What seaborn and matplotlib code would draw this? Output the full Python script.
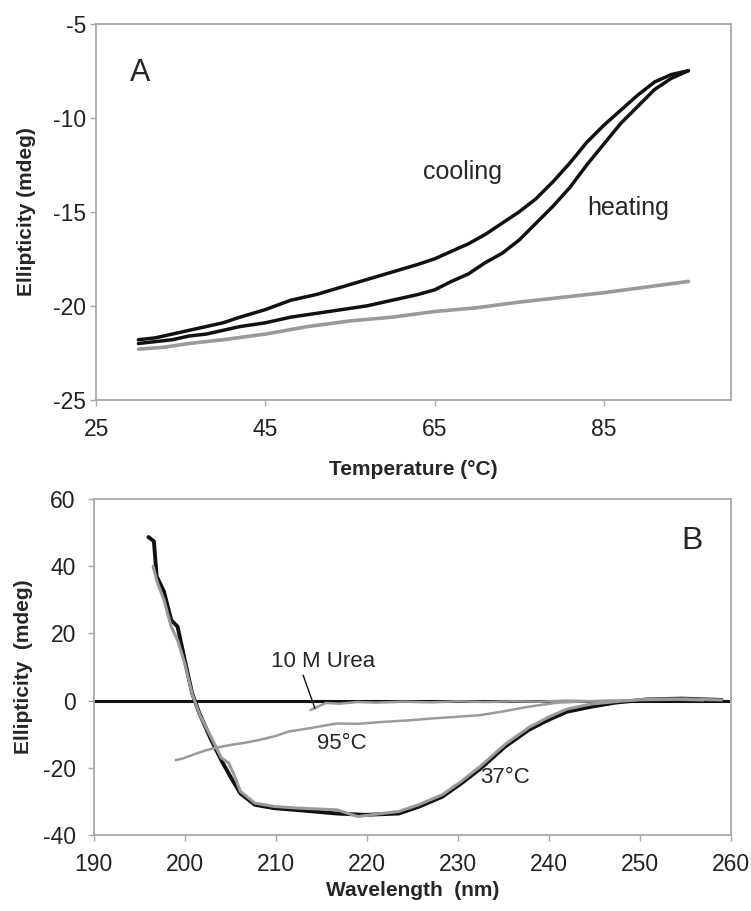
import matplotlib
matplotlib.use("Agg")
import matplotlib.pyplot as plt
import seaborn as sns

# Panel A: thermal melt (ellipticity vs temperature)
cool_T = [30, 32, 34, 36, 38, 40, 42, 45, 48, 51, 54, 57, 60, 63, 65, 67, 69, 71, 73, 75,
          77, 79, 81, 83, 85, 87, 89, 91, 93, 95]
cool_E = [-21.8, -21.7, -21.5, -21.3, -21.1, -20.9, -20.6, -20.2, -19.7, -19.4, -19.0, -18.6,
          -18.2, -17.8, -17.5, -17.1, -16.7, -16.2, -15.6, -15.0, -14.3, -13.4, -12.4, -11.3,
          -10.4, -9.6, -8.8, -8.1, -7.7, -7.5]
heat_T = [30, 32, 34, 36, 38, 40, 42, 45, 48, 51, 54, 57, 60, 63, 65, 67, 69, 71, 73, 75,
          77, 79, 81, 83, 85, 87, 89, 91, 93, 95]
heat_E = [-22.0, -21.9, -21.8, -21.6, -21.5, -21.3, -21.1, -20.9, -20.6, -20.4, -20.2, -20.0,
          -19.7, -19.4, -19.15, -18.7, -18.3, -17.7, -17.2, -16.5, -15.6, -14.7, -13.7, -12.5,
          -11.4, -10.3, -9.4, -8.5, -7.9, -7.5]
gray_T = [30, 33, 36, 40, 45, 50, 55, 60, 65, 70, 75, 80, 85, 90, 95]
gray_E = [-22.3, -22.2, -22.0, -21.8, -21.5, -21.1, -20.8, -20.6, -20.3, -20.1, -19.8, -19.55,
          -19.3, -19.0, -18.7]

# Panel B: CD spectra
wl37_black = [196.0, 196.6, 196.9, 197.7, 198.5, 199.2, 200.0, 200.8, 201.6, 202.9, 204.0, 205.0,
              206.1, 207.7, 209.8, 212.5, 216.7, 219.8, 223.5, 225.7, 228.3, 230.4, 232.5, 235.2,
              237.8, 239.9, 242.0, 244.7, 247.3, 251.0, 254.7, 259.0]
ell37_black = [48.7, 47.4, 37.0, 32.5, 24.0, 22.0, 12.0, 2.2, -3.8, -11.7, -17.7, -22.6, -27.6,
               -31.0, -32.0, -32.6, -33.6, -34.0, -33.6, -31.6, -28.6, -24.6, -20.2, -13.7,
               -8.7, -5.8, -3.3, -1.8, -0.6, 0.4, 0.6, 0.2]
wl37_gray = [196.5, 197.0, 197.7, 198.5, 199.2, 200.0, 200.8, 201.6, 202.9, 204.0, 204.8, 205.4,
             206.1, 207.7, 209.8, 212.5, 216.7, 219.0, 221.0, 223.5, 225.7, 228.3, 230.4, 232.5,
             235.2, 237.8, 239.9, 242.0, 244.7, 247.3, 251.0, 255.0, 259.0]
ell37_gray = [40.0, 35.0, 30.0, 22.0, 18.0, 11.0, 2.0, -4.0, -11.0, -17.0, -18.5, -22.0, -27.0,
              -30.5, -31.5, -32.0, -32.5, -34.5, -33.8, -33.0, -31.0, -28.0, -24.0, -19.5,
              -13.0, -8.0, -5.0, -2.5, -1.0, -0.3, 0.5, 0.5, 0.2]
wl95 = [199.0, 199.8, 201.0, 202.4, 203.5, 205.0, 206.5, 208.2, 210.0, 211.4, 213.5, 216.7,
        219.0, 222.0, 225.0, 227.2, 230.0, 232.5, 235.0, 237.8, 241.0, 244.0, 247.0]
ell95 = [-17.7, -17.2, -16.0, -14.7, -14.0, -13.2, -12.6, -11.7, -10.5, -9.2, -8.3, -6.8, -6.9,
         -6.3, -5.8, -5.3, -4.8, -4.3, -3.2, -1.8, -0.6, -0.2, 0.0]
wl_urea = [213.8, 214.6, 215.5, 217.0, 219.0, 221.0, 224.0, 227.0, 230.0, 233.0, 236.0, 239.0,
           242.0, 245.0, 248.0, 251.0, 254.0, 257.0]
ell_urea = [-2.8, -1.8, -0.7, -0.9, -0.4, -0.6, -0.3, -0.5, -0.2, -0.4, -0.2, -0.3, 0.0, -0.2,
            0.1, 0.2, 0.3, 0.1]

sns.set_style("white")
plt.rcParams["font.family"] = ["Liberation Sans", "DejaVu Sans"]
plt.rcParams["axes.unicode_minus"] = False

BLACK = "#111111"
GRAY = "#9a9a9a"
FRAME = "#a8a8a8"

fig = plt.figure(figsize=(7.51, 9.11), dpi=100)
axA = fig.add_axes([0.128, 0.561, 0.845, 0.413])
axB = fig.add_axes([0.125, 0.0834, 0.848, 0.3688])


def style_axes(ax, ypad):
    for sp in ax.spines.values():
        sp.set_color(FRAME)
        sp.set_linewidth(1.3)
    ax.tick_params(axis="x", direction="out", length=4, width=1, color=FRAME,
                   labelsize=16.5, pad=9, bottom=True, labelcolor="#222222")
    ax.tick_params(axis="y", direction="out", length=4, width=1, color=FRAME,
                   labelsize=16.5, pad=ypad, left=True, labelcolor="#222222")


# Panel A
sns.lineplot(x=gray_T, y=gray_E, ax=axA, color=GRAY, lw=2.6, sort=False, estimator=None)
sns.lineplot(x=heat_T, y=heat_E, ax=axA, color=BLACK, lw=2.5, sort=False, estimator=None)
sns.lineplot(x=cool_T, y=cool_E, ax=axA, color=BLACK, lw=2.5, sort=False, estimator=None)
axA.set_xlim(25, 100)
axA.set_ylim(-25, -5)
axA.set_xticks([25, 45, 65, 85])
axA.set_yticks([-25, -20, -15, -10, -5])
style_axes(axA, 3)
axA.set_xlabel("Temperature (°C)", fontsize=15, fontweight="bold", va="center")
axA.set_ylabel("Ellipticity (mdeg)", fontsize=15, fontweight="bold", va="center")
axA.xaxis.set_label_coords(0.5, -0.186)
axA.yaxis.set_label_coords(-0.110, 0.5)
axA.text(29, -7.6, "A", fontsize=22, va="center", ha="left")
axA.text(63.6, -12.9, "cooling", fontsize=18, va="center", ha="left")
axA.text(83, -14.8, "heating", fontsize=18, va="center", ha="left")

# Panel B
axB.axhline(0, color=BLACK, lw=2.2, zorder=1)
sns.lineplot(x=wl37_black, y=ell37_black, ax=axB, color=BLACK, lw=2.8, sort=False, estimator=None)
sns.lineplot(x=wl37_gray, y=ell37_gray, ax=axB, color=GRAY, lw=2.2, sort=False, estimator=None)
sns.lineplot(x=wl95, y=ell95, ax=axB, color=GRAY, lw=1.8, sort=False, estimator=None)
sns.lineplot(x=wl_urea, y=ell_urea, ax=axB, color=GRAY, lw=1.8, sort=False, estimator=None)
axB.set_xlim(190, 260)
axB.set_ylim(-40, 60)
axB.set_xticks(range(190, 261, 10))
axB.set_yticks(range(-40, 61, 20))
style_axes(axB, 9)
axB.set_xlabel("Wavelength  (nm)", fontsize=15, fontweight="bold", va="center")
axB.set_ylabel("Ellipticity  (mdeg)", fontsize=15, fontweight="bold", va="center")
axB.xaxis.set_label_coords(0.5, -0.164)
axB.yaxis.set_label_coords(-0.110, 0.5)
axB.text(254.6, 47.4, "B", fontsize=23, va="center", ha="left")
axB.text(209.5, 11.6, "10 M Urea", fontsize=16, va="center", ha="left")
axB.plot([213.0, 214.3], [7.6, -2.3], color=BLACK, lw=1.0)
axB.text(214.5, -12.7, "95°C", fontsize=16, va="center", ha="left")
axB.text(232.5, -23.0, "37°C", fontsize=16, va="center", ha="left")

fig.savefig("out.png", dpi=100)
